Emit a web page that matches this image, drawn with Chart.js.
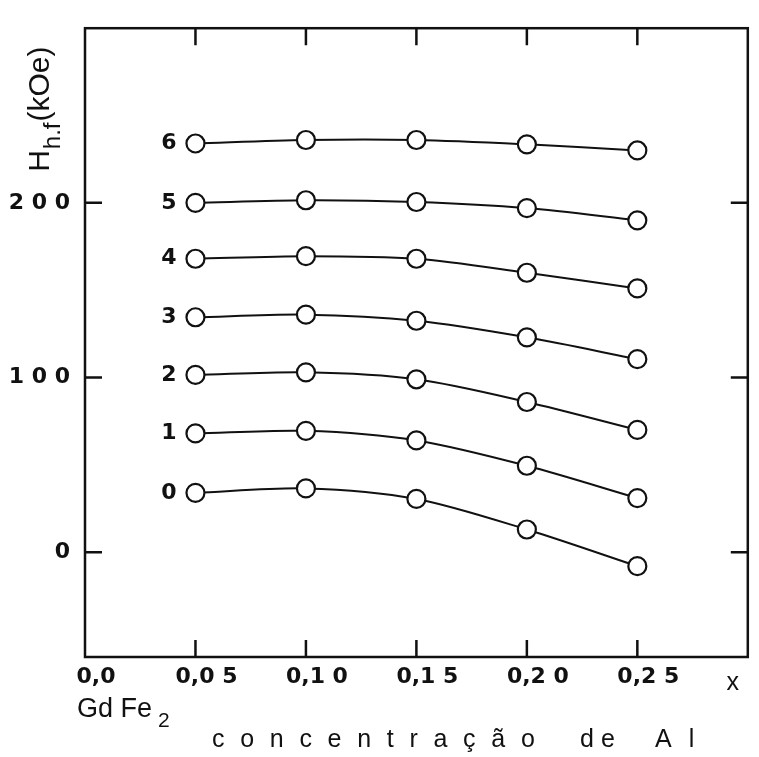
<!DOCTYPE html>
<html>
<head>
<meta charset="utf-8">
<script src="https://cdn.jsdelivr.net/npm/chart.js@4.4.1/dist/chart.umd.min.js"></script>
<style>
    html, body { margin: 0; padding: 0; background: #fff; }
    #wrap { width: 759px; height: 757px; }
</style>
</head>
<body>
<div id="wrap"><canvas id="hfChart"></canvas></div>
<script>

const xValues = [0.05, 0.10, 0.15, 0.20, 0.25];

const series0 = [34, 36.5, 30.5, 13, -8];
const series1 = [68, 69.5, 64, 49.5, 31];
const series2 = [101.5, 103, 99, 86, 70];
const series3 = [134.5, 136, 132.5, 123, 110.5];
const series4 = [168, 169.5, 168, 160, 151];
const series5 = [200, 201.5, 200.5, 197, 190];
const series6 = [234, 236, 236, 233.5, 230];

const seriesNames = ["0", "1", "2", "3", "4", "5", "6"];
const allSeries = [series0, series1, series2, series3, series4, series5, series6];

const xTickValues = [0, 0.05, 0.10, 0.15, 0.20, 0.25];
const xTickLabels = ["0,0", "0,0 5", "0,1 0", "0,1 5", "0,2 0", "0,2 5"];
const yTickValues = [0, 100, 200];
const yTickLabels = ["0", "1 0 0", "2 0 0"];

const INK = "#111";

function spaced(c, text, x, y, gap) {
    for (const ch of text) {
        c.fillText(ch, x, y);
        x += c.measureText(ch).width + gap;
    }
}

// frame with inward ticks on all four sides
const framePlugin = {
    id: "frame",
    afterDraw(chart) {
        const c = chart.ctx;
        const a = chart.chartArea;
        const xs = chart.scales.x, ys = chart.scales.y;
        const tl = 17;
        c.save();
        c.strokeStyle = INK;
        c.lineWidth = 2.5;
        c.strokeRect(a.left, a.top, a.right - a.left, a.bottom - a.top);
        c.beginPath();
        xValues.forEach(v => {
            const px = xs.getPixelForValue(v);
            c.moveTo(px, a.top); c.lineTo(px, a.top + tl);
            c.moveTo(px, a.bottom); c.lineTo(px, a.bottom - tl);
        });
        yTickValues.forEach(v => {
            const py = ys.getPixelForValue(v);
            c.moveTo(a.left, py); c.lineTo(a.left + tl, py);
            c.moveTo(a.right, py); c.lineTo(a.right - tl, py);
        });
        c.stroke();
        c.restore();
    }
};

const textPlugin = {
    id: "texts",
    afterDraw(chart) {
        const c = chart.ctx;
        const a = chart.chartArea;
        const xs = chart.scales.x, ys = chart.scales.y;
        c.save();
        c.fillStyle = INK;

        // series labels left of first point
        c.font = "bold 22px 'DejaVu Sans'";
        c.textAlign = "right";
        c.textBaseline = "middle";
        allSeries.forEach((s, i) => {
            c.fillText(seriesNames[i], xs.getPixelForValue(xValues[0]) - 19, ys.getPixelForValue(s[0]));
        });

        // y title  H_h.f(kOe)
        c.save();
        c.translate(49, ys.getPixelForValue(200) - 31);
        c.rotate(-Math.PI / 2);
        c.textAlign = "left";
        c.textBaseline = "alphabetic";
        c.font = "30px 'Liberation Sans'";
        c.fillText("H", 0, 0);
        let w = c.measureText("H").width + 1;
        c.font = "24px 'Liberation Sans'";
        c.fillText("h.f", w, 11);
        w += c.measureText("h.f").width + 1;
        c.font = "30px 'Liberation Sans'";
        c.fillText("(kOe)", w, 0);
        c.restore();

        // GdFe2 under 0,0
        c.textAlign = "left";
        c.textBaseline = "alphabetic";
        c.font = "27px 'Liberation Sans'";
        c.fillText("Gd Fe", a.left - 8, a.bottom + 60);
        const gw = c.measureText("Gd Fe").width;
        c.font = "21px 'Liberation Sans'";
        c.fillText("2", a.left - 8 + gw + 6, a.bottom + 70);

        // x symbol
        c.font = "25px 'Liberation Sans'";
        c.textAlign = "center";
        c.fillText("x", a.right - 15, a.bottom + 33);

        // concentração de Al
        c.textAlign = "left";
        spaced(c, "concentração", 212, a.bottom + 90, 15.7);
        spaced(c, "de", 580, a.bottom + 90, 7);
        spaced(c, "Al", 655, a.bottom + 90, 17);

        c.restore();
    }
};

const ctx = document.getElementById("hfChart");

new Chart(ctx, {
    type: "line",
    data: {
        datasets: allSeries.map((s, i) => ({
            label: seriesNames[i],
            data: s.map((v, j) => ({ x: xValues[j], y: v })),
            borderColor: INK,
            borderWidth: 2,
            tension: 0.3,
            fill: false,
            pointRadius: 9,
            pointBorderWidth: 2.2,
            pointBorderColor: INK,
            pointBackgroundColor: "#fff"
        }))
    },
    options: {
        responsive: true,
        maintainAspectRatio: false,
        animation: false,
        layout: { padding: { top: 9, right: 2, left: 0, bottom: 0 } },
        plugins: {
            legend: { display: false },
            tooltip: { enabled: false }
        },
        scales: {
            x: {
                type: "linear",
                min: 0,
                max: 0.30,
                afterBuildTicks: scale => {
                    scale.ticks = xTickValues.map(v => ({ value: v }));
                },
                afterFit: scale => { scale.height = 100; },
                grid: { display: false, drawTicks: false },
                border: { display: false },
                ticks: {
                    autoSkip: false,
                    maxRotation: 0,
                    padding: 7,
                    labelOffset: 11,
                    color: INK,
                    font: { family: "DejaVu Sans", size: 22, weight: "bold" },
                    callback: (v, i) => xTickLabels[i]
                }
            },
            y: {
                min: -60,
                max: 300,
                afterBuildTicks: scale => {
                    scale.ticks = yTickValues.map(v => ({ value: v }));
                },
                afterFit: scale => { scale.width = 85; },
                grid: { display: false, drawTicks: false },
                border: { display: false },
                ticks: {
                    padding: 15,
                    color: INK,
                    font: { family: "DejaVu Sans", size: 22, weight: "bold" },
                    callback: (v, i) => yTickLabels[i]
                }
            }
        }
    },
    plugins: [framePlugin, textPlugin]
});
</script>
</body>
</html>
